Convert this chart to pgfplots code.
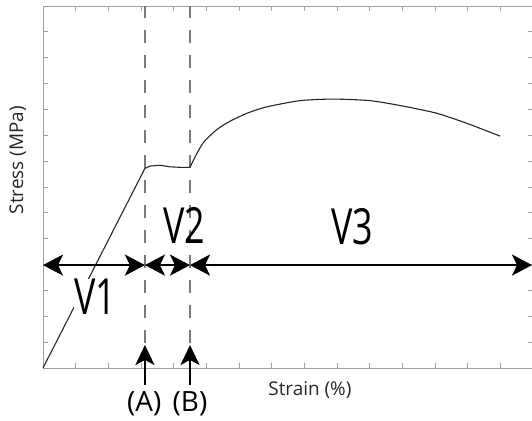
\documentclass[border=0pt]{standalone}
\usepackage{fontspec}
\setmainfont{Open Sans}
\usepackage{pgfplots}
\pgfplotsset{compat=1.18}
\usetikzlibrary{arrows.meta}

\definecolor{boxgray}{HTML}{A0A0A0}
\definecolor{dashgray}{HTML}{7A7A7A}

\begin{document}
\begin{tikzpicture}[
  bigarrow/.style={line width=2.4bp, black, {Stealth[length=20bp,width=21bp,inset=5bp]}-{Stealth[length=20bp,width=21bp,inset=5bp]}},
  uparrow/.style={line width=2.4bp, black, -{Stealth[length=20bp,width=19bp,inset=5bp]}},
  vlab/.style={font=\fontsize{50}{50}\selectfont, inner sep=0bp}
]
\begin{axis}[
    scale only axis,
    width=490bp, height=362bp,
    xmin=0, xmax=15, ymin=0, ymax=14,
    xtick={0,...,15}, ytick={0,...,14},
    xticklabels={}, yticklabels={},
    tick align=inside,
    major tick length=5bp,
    tick style={boxgray, line width=0.8bp},
    axis line style={boxgray, line width=0.8bp},
    clip=false
]
% dashed boundaries (A) and (B)
\addplot[dashgray, line width=1.4bp, dash pattern=on 13bp off 12bp] coordinates {(3.12,0)(3.12,14)};
\addplot[dashgray, line width=1.4bp, dash pattern=on 13bp off 12bp] coordinates {(4.50,0)(4.50,14)};

% elastic part and plateau
\addplot[black!85, line width=1.1bp] coordinates {
    (0,0)(3.12,7.72)(3.28,7.81)(3.58,7.84)(3.89,7.78)(4.20,7.76)(4.50,7.76)
};
% hardening part
\addplot[black!85, line width=1.1bp, smooth, tension=0.4] coordinates {
    (4.50,7.76)(4.65,8.15)(4.91,8.72)(5.32,9.22)(5.72,9.54)(6.24,9.85)
    (6.85,10.10)(7.87,10.34)(8.88,10.40)(10.01,10.34)(11.02,10.13)
    (12.06,9.85)(12.98,9.46)(13.99,8.97)
};

% region labels
\node[vlab, fill=white] at (axis cs:1.59,2.75) {\scalebox{0.72}[1]{V1}};
\node[vlab] at (axis cs:4.32,5.53) {\scalebox{0.72}[1]{V2}};
\node[vlab] at (axis cs:9.46,5.45) {\scalebox{0.72}[1]{V3}};

% region arrows
\draw[bigarrow] (axis cs:0,3.98) -- (axis cs:3.12,3.98);
\draw[bigarrow] (axis cs:3.12,3.98) -- (axis cs:4.50,3.98);
\draw[bigarrow] (axis cs:4.50,3.98) -- (axis cs:14.97,3.98);

% marker arrows
\draw[uparrow] (axis cs:3.12,-0.66) -- (axis cs:3.12,0.89);
\draw[uparrow] (axis cs:4.50,-0.66) -- (axis cs:4.50,0.89);
\node[font=\fontsize{28}{28}\selectfont, anchor=center] at (axis cs:3.10,-1.39) {(A)};
\node[font=\fontsize{28}{28}\selectfont, anchor=center] at (axis cs:4.50,-1.39) {(B)};

% axis titles
\node[font=\fontsize{19}{19}\selectfont, text=black!85] at (axis cs:8.17,-0.85) {Strain (\%)};
\node[font=\fontsize{19}{19}\selectfont, text=black!85, rotate=90] at (axis cs:-0.77,8.04) {Stress (MPa)};
\end{axis}
\pgfresetboundingbox
\path (-43bp,-53bp) rectangle (489bp,368bp);
\end{tikzpicture}
\end{document}
